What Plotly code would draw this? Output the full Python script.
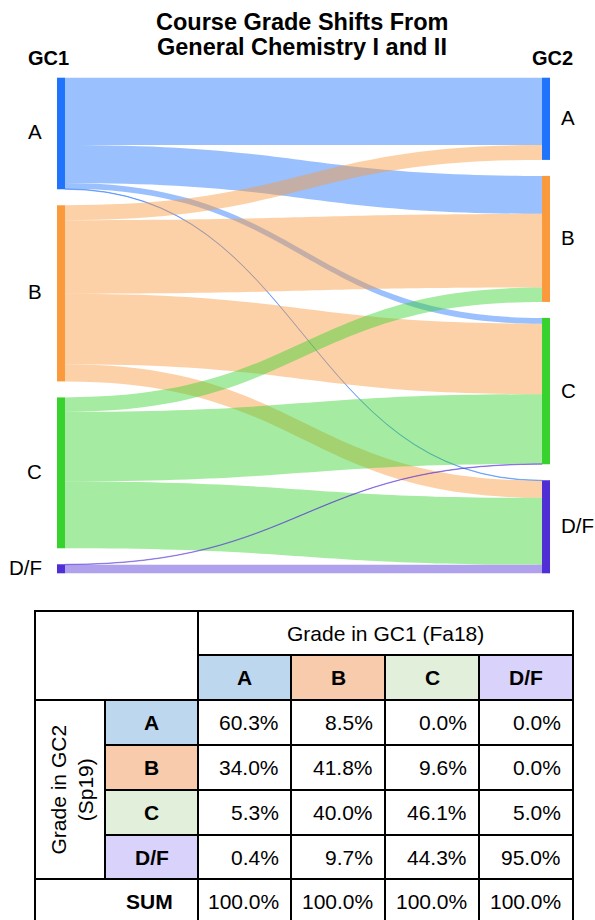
import plotly.graph_objects as go

# ---------------- data ----------------
grades = ["A", "B", "C", "D/F"]
# estimated student counts flowing GC1 grade (rows) -> GC2 grade (cols)
flows = [
    [149, 84, 13, 1],
    [33, 163, 156, 38],
    [0, 32, 154, 148],
    [0, 0, 1, 19],
]
# table: rows = grade in GC2, cols = grade in GC1 (percent)
pct_table = [
    [60.3, 8.5, 0.0, 0.0],
    [34.0, 41.8, 9.6, 0.0],
    [5.3, 40.0, 46.1, 5.0],
    [0.4, 9.7, 44.3, 95.0],
]
title_lines = ["Course Grade Shifts From", "General Chemistry I and II"]
left_title = "GC1"
right_title = "GC2"
col_header = "Grade in GC1 (Fa18)"
row_header = ["Grade in GC2", "(Sp19)"]
sum_label = "SUM"

# ---------------- style ----------------
W, H = 595, 920
FONT = "Liberation Sans, Arial, sans-serif"
node_colors = ["#1f74fb", "#fb9a3c", "#38d22f", "#4f2ed6"]
link_rgb = [(31, 116, 251), (251, 154, 60), (56, 210, 47), (79, 46, 214)]
cell_colors = ["#bdd7ee", "#f8cbad", "#e2efda", "#d9d2fb"]


def px(x):
    return x / W


def py(y):
    return 1 - y / H


# sankey geometry (pixels)
sk_top, sk_bot = 77.7, 573.3
sk_left, sk_right = 60.5, 546.5
pad = 16.0
thick = 8

n = len(grades)
src_tot = [sum(r) for r in flows]
tgt_tot = [sum(flows[i][j] for i in range(n)) for j in range(n)]
Hs = sk_bot - sk_top
ky = (Hs - (n - 1) * pad) / sum(src_tot)


def centers(tots):
    out, acc = [], 0.0
    for i, t in enumerate(tots):
        y0 = acc * ky + i * pad
        out.append((y0 + t * ky / 2) / Hs)
        acc += t
    return out


yc_left = centers(src_tot)
yc_right = centers(tgt_tot)

sources, targets, values, lcolors = [], [], [], []
for i in range(n):
    for j in range(n):
        if flows[i][j] > 0:
            sources.append(i)
            targets.append(n + j)
            values.append(flows[i][j])
            r, g, b = link_rgb[i]
            lcolors.append(f"rgba({r},{g},{b},0.45)")

fig = go.Figure(go.Sankey(
    arrangement="fixed",
    domain=dict(x=[px(sk_left), px(sk_right)], y=[py(sk_bot), py(sk_top)]),
    node=dict(
        label=[""] * (2 * n),
        color=node_colors + node_colors,
        x=[0.001] * n + [0.999] * n,
        y=yc_left + yc_right,
        pad=pad,
        thickness=thick,
        line=dict(width=0),
    ),
    link=dict(source=sources, target=targets, value=values, color=lcolors),
    hoverinfo="skip",
))

ann = []
shapes = []

# title (two lines)
for k, line in enumerate(title_lines):
    ann.append(dict(text="<b>" + line + "</b>", x=px(302), y=py(22 + 25 * k),
                    xref="paper", yref="paper", showarrow=False, xanchor="center", yanchor="middle",
                    font=dict(family=FONT, size=23.5, color="black")))
ann.append(dict(text="<b>" + left_title + "</b>", x=px(48), y=py(58), xref="paper", yref="paper",
                showarrow=False, xanchor="center", yanchor="middle",
                font=dict(family=FONT, size=20, color="black")))
ann.append(dict(text="<b>" + right_title + "</b>", x=px(552), y=py(58), xref="paper", yref="paper",
                showarrow=False, xanchor="center", yanchor="middle",
                font=dict(family=FONT, size=20, color="black")))

# node labels
for i, g in enumerate(grades):
    yl = sk_top + yc_left[i] * Hs
    yr = sk_top + yc_right[i] * Hs
    ann.append(dict(text=g, x=px(44), y=py(yl - 1.5), xref="paper", yref="paper", showarrow=False,
                    xanchor="right", yanchor="middle", font=dict(family=FONT, size=20.5, color="black")))
    ann.append(dict(text=g, x=px(559), y=py(yr - 1), xref="paper", yref="paper", showarrow=False,
                    xanchor="left", yanchor="middle", font=dict(family=FONT, size=20.5, color="black")))

# ---------------- table ----------------
xs = [35, 105, 198, 291, 385, 479, 573]   # column boundaries
ys = [611, 655, 700, 745, 790, 835, 879, 924]  # row boundaries
LW = 2


def rect(x0, y0, x1, y1, fill):
    shapes.append(dict(type="rect", xref="paper", yref="paper", x0=px(x0), x1=px(x1),
                       y0=py(y1), y1=py(y0), fillcolor=fill, line=dict(width=0), layer="below"))


def hline(y, x0, x1):
    shapes.append(dict(type="line", xref="paper", yref="paper", x0=px(x0), x1=px(x1),
                       y0=py(y), y1=py(y), line=dict(color="black", width=LW)))


def vline(x, y0, y1):
    shapes.append(dict(type="line", xref="paper", yref="paper", x0=px(x), x1=px(x),
                       y0=py(y0), y1=py(y1), line=dict(color="black", width=LW)))


for k in range(n):
    rect(xs[2 + k], ys[1], xs[3 + k], ys[2], cell_colors[k])   # column headers
    rect(xs[1], ys[2 + k], xs[2], ys[3 + k], cell_colors[k])   # row headers

# grid lines
hline(ys[0], xs[0] - 1, xs[-1] + 1)
hline(ys[1], xs[2], xs[-1])
hline(ys[2], xs[0], xs[-1])
for k in range(3, 6):
    hline(ys[k], xs[1], xs[-1])
hline(ys[6], xs[0], xs[-1])
vline(xs[0], ys[0], ys[-1])
vline(xs[-1], ys[0], ys[-1])
vline(xs[2], ys[0], ys[-1])
for k in range(3, 6):
    vline(xs[k], ys[1], ys[-1])
vline(xs[1], ys[2], ys[6])

TF = dict(family=FONT, size=21, color="black")
TB = dict(family=FONT, size=21, color="black")

ann.append(dict(text=col_header, x=px((xs[2] + xs[-1]) / 2), y=py((ys[0] + ys[1]) / 2),
                xref="paper", yref="paper", showarrow=False, xanchor="center", yanchor="middle", font=TF))
ann.append(dict(text="<br>".join(row_header), x=px((xs[0] + xs[1]) / 2 + 1), y=py((ys[2] + ys[6]) / 2),
                xref="paper", yref="paper", showarrow=False, textangle=-90,
                xanchor="center", yanchor="middle", font=TF))

for k, g in enumerate(grades):
    ann.append(dict(text="<b>" + g + "</b>", x=px((xs[2 + k] + xs[3 + k]) / 2), y=py((ys[1] + ys[2]) / 2),
                    xref="paper", yref="paper", showarrow=False, xanchor="center", yanchor="middle", font=TB))
    ann.append(dict(text="<b>" + g + "</b>", x=px((xs[1] + xs[2]) / 2), y=py((ys[2 + k] + ys[3 + k]) / 2),
                    xref="paper", yref="paper", showarrow=False, xanchor="center", yanchor="middle", font=TB))

for r in range(n):
    for c in range(n):
        ann.append(dict(text=f"{pct_table[r][c]:.1f}%", x=px(xs[3 + c] - 10), y=py((ys[2 + r] + ys[3 + r]) / 2),
                        xref="paper", yref="paper", showarrow=False, xanchor="right", yanchor="middle", font=TF))

sums = [sum(pct_table[r][c] for r in range(n)) for c in range(n)]
ann.append(dict(text="<b>" + sum_label + "</b>", x=px(xs[2] - 23), y=py((ys[6] + ys[7]) / 2),
                xref="paper", yref="paper", showarrow=False, xanchor="right", yanchor="middle", font=TB))
for c in range(n):
    ann.append(dict(text=f"{sums[c]:.1f}%", x=px(xs[3 + c] - 10), y=py((ys[6] + ys[7]) / 2),
                    xref="paper", yref="paper", showarrow=False, xanchor="right", yanchor="middle", font=TF))

fig.update_layout(
    width=W, height=H,
    margin=dict(l=0, r=0, t=0, b=0),
    paper_bgcolor="white", plot_bgcolor="white",
    annotations=ann, shapes=shapes,
    font=dict(family=FONT),
)

fig.write_html("out.html", config={"displayModeBar": False},
               post_script="document.body.style.margin='0';document.body.style.overflow='hidden';")
